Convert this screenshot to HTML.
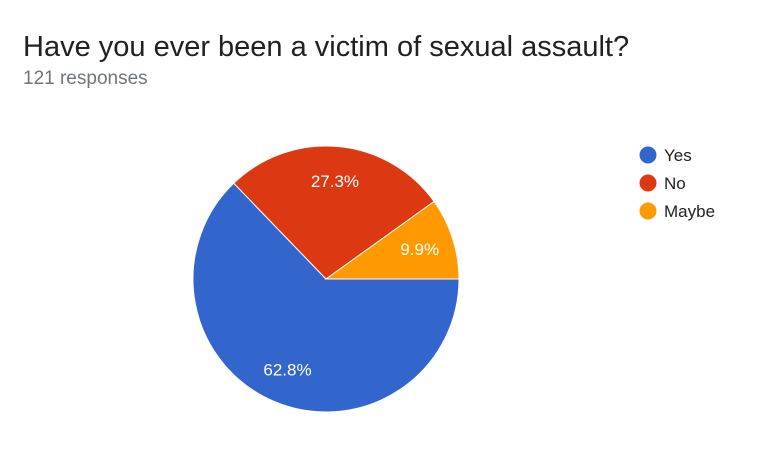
<!DOCTYPE html>
<html><head><meta charset="utf-8"><style>
body{margin:0;background:#fff;width:780px;height:456px;overflow:hidden;font-family:"Liberation Sans",Arial,sans-serif}
</style></head><body>
<svg width="780" height="456">
<text x="23" y="56" font-size="29" fill="#202124">Have you ever been a victim of sexual assault?</text>
<text x="23" y="84" font-size="19" fill="#70757a">121 responses</text>
<g id="pie"></g>
<g id="legend"></g>
</svg>
<script>
const labels=["Yes","No","Maybe"];
const values=[62.8,27.3,9.9];
const colors=["#3366cc","#dc3912","#ff9900"];
const NS="http://www.w3.org/2000/svg";
const cx=326,cy=279,r=133;
const pie=document.getElementById('pie');
const total=values.reduce((a,b)=>a+b,0);
let a0=0;
values.forEach((v,i)=>{
  const a1=a0+v/total*2*Math.PI;
  const x0=cx+r*Math.cos(a0),y0=cy+r*Math.sin(a0),x1=cx+r*Math.cos(a1),y1=cy+r*Math.sin(a1);
  const p=document.createElementNS(NS,'path');
  p.setAttribute('d',`M${cx},${cy}L${x0},${y0}A${r},${r} 0 ${a1-a0>Math.PI?1:0} 1 ${x1},${y1}Z`);
  p.setAttribute('fill',colors[i]);p.setAttribute('stroke','#fff');p.setAttribute('stroke-width','1');
  
  
  pie.appendChild(p);
  const am=(a0+a1)/2,lr=r*0.74;
  const t=document.createElementNS(NS,'text');
  t.setAttribute('x',cx+lr*Math.cos(am));t.setAttribute('y',cy+lr*Math.sin(am)+6);
  t.setAttribute('text-anchor','middle');t.setAttribute('font-size','17');t.setAttribute('fill','#fff');
  t.textContent=v.toFixed(1)+'%';
  
  
  pie.appendChild(t);
  a0=a1;
});
const lg=document.getElementById('legend');
labels.forEach((l,i)=>{
  const y=155+i*28;
  const c=document.createElementNS(NS,'circle');
  c.setAttribute('cx',648);c.setAttribute('cy',y);c.setAttribute('r',8.5);c.setAttribute('fill',colors[i]);
  
  
  lg.appendChild(c);
  const t=document.createElementNS(NS,'text');
  t.setAttribute('x',664);t.setAttribute('y',y+6);t.setAttribute('font-size','17');t.setAttribute('fill','#222');
  t.textContent=l;
  
  
  lg.appendChild(t);
});
</script>
</body></html>
